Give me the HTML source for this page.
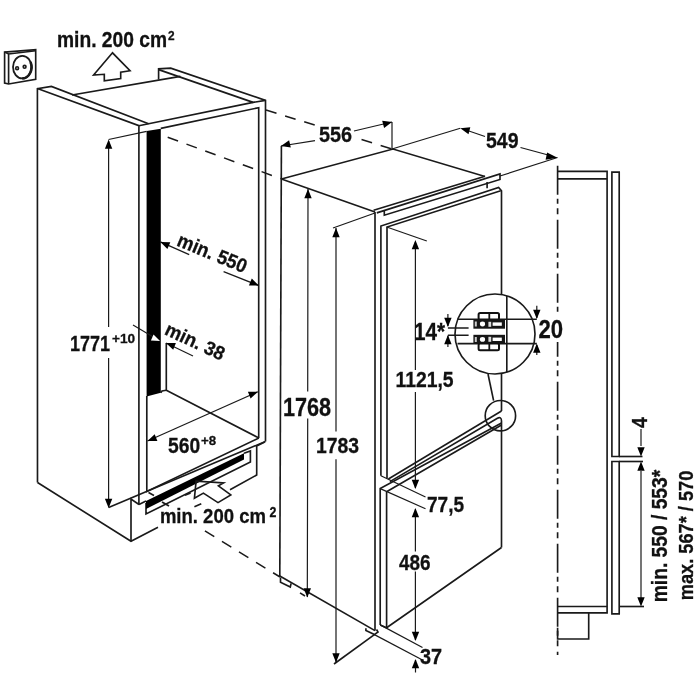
<!DOCTYPE html>
<html><head><meta charset="utf-8">
<style>
html,body{margin:0;padding:0;background:#fff;width:700px;height:700px;overflow:hidden}
svg{display:block;will-change:transform}
.l{fill:none;stroke:#1a1a1a;stroke-width:1.65;stroke-linejoin:miter;stroke-linecap:butt}
.t{font-family:"Liberation Sans",sans-serif;font-weight:bold;fill:#111;stroke:#111;stroke-width:0.3}
.f{fill:#000;stroke:none}
.dl{fill:none;stroke:#1a1a1a;stroke-width:1.2}
.d{fill:none;stroke:#1a1a1a;stroke-width:1.5;stroke-dasharray:11 9}
</style></head><body>
<svg width="700" height="700" viewBox="0 0 700 700">
<rect width="700" height="700" fill="#fff"/>

<!-- socket -->
<g class="l">
<path d="M4.6 52.1 L35.7 49.6 L35.7 79.3 L8.6 84 L4.6 83 Z"/>
<path d="M4.6 52.1 L8.6 54 L35.7 50.7 M8.6 54 L8.6 84"/>
<ellipse cx="22.3" cy="67.1" rx="9.3" ry="11.3" stroke-width="1.8"/>
<path d="M30.5 62 A9.3 11.3 0 0 1 22.3 78.4" stroke-width="2.6"/>
</g>
<circle class="l" cx="17.1" cy="68.2" r="1.4" stroke-width="1.3"/><circle class="l" cx="24.6" cy="66.8" r="1.4" stroke-width="1.3"/>

<!-- top vent arrow -->
<path class="l" d="M112.5 52.8 L93.6 75 L104.3 74.3 L104.3 80.7 L120.7 78.6 L120.7 72.1 L130 70.7 Z"/>

<!-- top text -->
<text class="t" x="57.00" y="47.00" font-size="21.33" textLength="110.07" lengthAdjust="spacingAndGlyphs">min. 200 cm</text>
<text class="t" x="168.00" y="39.80" font-size="13.6" textLength="6.6" lengthAdjust="spacingAndGlyphs">2</text>

<!-- ===== cabinet ===== -->
<g class="l">
<!-- left panel -->
<path d="M37.5 482.5 L37.4 88.6 L51.4 86.4 L148.6 123.7"/>
<path d="M37.4 88.6 L138.9 125.7 L138.9 504.5"/>
<!-- back top edge -->
<path d="M72 95 L180.4 76.4"/>
<!-- right panel top -->
<path d="M158.6 79.6 L158.6 68.9 L170.7 68.2 L265.5 100.4 L265.5 441.4"/>
<path d="M158.6 69.6 L253.1 102.4"/>
<!-- front rail -->
<path d="M138.9 125.7 L148.6 123.7 L253.1 102.4 L265.5 100.4"/>
<path d="M160.8 128.4 L258.7 107.7 L258.7 438"/>
<!-- bottom -->
<path d="M166.3 343 L166.3 390.3 L258.9 438"/>
<path d="M160.8 392.7 L162 391 L166.3 390.3"/>
<path d="M146.8 396 L146.8 491.5 L258.9 438"/>
<!-- left panel bottom / plinth -->
<path d="M37.5 482.5 L131 541.3 L158 527.2"/>
<path d="M131 541.3 L131 499 L139 504.5"/>
</g>
<!-- black bar -->
<path class="f" d="M146.6 131 L160.8 128.8 L160.8 392.7 L146.6 396.6 Z"/>

<!-- dim 1771 -->
<g class="dl">
<path d="M108.6 141 L108.6 327 M108.6 358 L108.6 506"/>
<path d="M108.6 139.5 L146.6 131.4"/>
</g>
<path class="l" d="M108.6 507.5 L265.4 441.5"/>
<path class="f" d="M108.6 139.5 L112.3 148.7 L104.9 148.7 Z"/>
<path class="f" d="M108.6 507.9 L104.9 498.7 L112.3 498.7 Z"/>
<text class="t" x="70.00" y="351.00" font-size="22.41" textLength="40.05" lengthAdjust="spacingAndGlyphs">1771</text>
<text class="t" x="112.00" y="343.00" font-size="13.67" textLength="23.15" lengthAdjust="spacingAndGlyphs">+10</text>

<!-- min 550 -->
<g class="dl">
<path d="M160.4 241.9 L189.2 254.6"/>
<path d="M223.6 271.6 L258.8 285.6"/>
</g>
<path class="f" d="M160.4 241.9 L170.3 242.2 L167.4 249.0 Z"/>
<path class="f" d="M258.8 285.6 L248.9 285.4 L251.8 278.6 Z"/>
<text class="t" transform="translate(175.8 245.3) rotate(22.5)" x="0" y="0" font-size="19.8" textLength="73.5" lengthAdjust="spacingAndGlyphs">min. 550</text>

<!-- min 38 -->
<g class="dl">
<path d="M133 325 L160 341"/>
<path d="M166 343 L193 356"/>
</g>
<path fill="#fff" d="M160.0 341.0 L150.9 340.6 L153.5 334.6 Z"/>
<path class="f" d="M166.0 343.0 L175.9 342.9 L173.2 349.8 Z"/>
<text class="t" transform="translate(163.5 334) rotate(25)" x="0" y="0" font-size="19.3" textLength="63.5" lengthAdjust="spacingAndGlyphs">min. 38</text>

<!-- 560 -->
<g class="dl">
<path d="M147.5 441 L257.8 391.8"/>
</g>
<path class="f" d="M147.5 441.0 L154.7 434.2 L157.4 441.1 Z"/>
<path class="f" d="M257.8 391.8 L250.6 398.6 L247.9 391.7 Z"/>
<text class="t" x="168.00" y="453.00" font-size="21.83" textLength="32.13" lengthAdjust="spacingAndGlyphs">560</text>
<text class="t" x="201.00" y="445.00" font-size="13.62" textLength="15.17" lengthAdjust="spacingAndGlyphs">+8</text>

<!-- plinth grid -->
<g class="l">
<path d="M146 503 L146 514 L250.4 462 L250.4 451 L244 453.3"/>
<path d="M230 489.7 L256.7 475 L256.7 445.9 L264.7 441.9"/>
<path d="M139 504.5 L146 501"/>
<path d="M148.5 492.5 L154 495.5"/>
<path d="M162 502 L169 506"/>
<path d="M185 495.3 L190.6 493.1 M194.4 506.8 L201.3 503.8"/>
</g>
<path class="f" d="M146 501 L244 453.3 L244 459.6 L146 509 Z"/>
<!-- bottom vent arrow -->
<path class="l" fill="#fff" d="M196.1 481.1 L223.6 482.9 L218.4 485.9 L230.8 494.9 L218 502.6 L203.4 493.1 L194.4 498.3 Z"/>
<text class="t" x="159.90" y="522.90" font-size="20.81" textLength="106.03" lengthAdjust="spacingAndGlyphs">min. 200 cm</text>
<text class="t" x="269.40" y="516.70" font-size="14.0" textLength="6.9" lengthAdjust="spacingAndGlyphs">2</text>

<!-- dashed connection lines -->
<path class="d" d="M167.7 137.2 L281 178.8"/>
<path class="d" d="M266 110 L392 149"/>
<path class="d" d="M204.9 530.9 L280 577"/>

<!-- ===== fridge ===== -->
<g class="l">
<path d="M281.4 146 L279.8 576"/>
<path d="M281.4 179 L393 149 L485 176.5"/>
<path d="M281.4 179 L375 212"/>
<path d="M279.8 576 L375 630.6"/>
<path d="M374.4 634.6 L334 664"/>
<path d="M375 212 L375 630.6"/>
</g>
<!-- dim 556 -->
<g class="dl">
<path d="M281 146 L315 140.6"/>
<path d="M392 122 L392 149"/>
<path d="M354 131 L392 122"/>
</g>
<path class="f" d="M281.0 146.0 L289.1 140.3 L290.8 147.5 Z"/>
<path class="f" d="M392.0 122.0 L384.1 128.0 L382.2 120.8 Z"/>
<rect x="317" y="125" width="36" height="19" fill="#fff"/>
<text class="t" x="319.00" y="142.00" font-size="22.50" textLength="33.08" lengthAdjust="spacingAndGlyphs">556</text>

<!-- dim 549 -->
<g class="dl">
<path d="M392 149 L460.3 128.3"/>
<path d="M466 130 L485 136.5"/>
<path d="M520.5 147.5 L550 155.5"/>
<path d="M500 176 L557.5 157.5"/>
</g>
<path class="f" d="M460.3 128.3 L470.3 127.2 L468.5 134.2 Z"/>
<path class="f" d="M557.5 157.7 L545.6 159.8 L547.1 152.6 Z"/>
<text class="t" x="486.00" y="147.50" font-size="22.62" textLength="32.55" lengthAdjust="spacingAndGlyphs">549</text>

<!-- frame top strip -->
<g class="l">
<path d="M373.6 210.2 L485 176.2"/>
<path d="M376.8 212.9 L500 173.9 L500 179.5 L384.3 215.2 L384.3 210.5"/>
<path d="M487.1 182 L487.1 188.3"/>
</g>
<!-- upper door -->
<g class="l">
<path d="M380.9 475.7 L380.9 226 L498.6 187.5 L501.5 190.7 L501.5 294 M501.5 374 L501.5 411"/>
<path d="M387 478.6 L387 227 L500.7 190.7"/>
<path d="M388.4 479 L501.5 411"/>
<path d="M389.9 481.6 L497 418.5 Q501.5 416 501.5 421"/>
</g>
<!-- lower door -->
<g class="l">
<path d="M380.2 624.9 L380.2 488.6 L501.5 423"/>
<path d="M501.5 421 L501.5 547.5"/>
<path d="M386.6 627.7 L386.6 491.8 L501.5 425"/>
<path d="M380.2 624.9 L386.6 627.7 L501.5 547.5"/>
</g>

<!-- dims 1768 / 1783 -->
<g class="dl">
<path d="M308 189 L307.7 391.4 M307.7 418.6 L307.3 597"/>
<path d="M336 228 L336 431.4 M336 459.3 L336 662"/>
<path d="M333 228 L375 213"/>
</g>
<path class="f" d="M308.0 189.0 L311.7 198.2 L304.3 198.2 Z"/>
<path class="f" d="M307.3 597.5 L303.6 588.3 L311.0 588.3 Z"/>
<path class="f" d="M336.0 228.0 L339.7 237.2 L332.3 237.2 Z"/>
<path class="f" d="M336.0 662.5 L332.3 653.3 L339.7 653.3 Z"/>
<text class="t" x="283.00" y="416.00" font-size="24.97" textLength="48.08" lengthAdjust="spacingAndGlyphs">1768</text>
<text class="t" x="316.00" y="453.00" font-size="22.50" textLength="43.06" lengthAdjust="spacingAndGlyphs">1783</text>

<!-- dim 1121,5 / 77,5 / 486 / 37 -->
<g class="dl">
<path d="M386.7 227 L426.8 241"/>
<path d="M415.4 242 L415.4 370 M415.4 392 L415.4 488"/>
<path d="M380.9 475.7 L425.5 497"/>
<path d="M380.2 488.6 L425.5 508.8"/>
<path d="M415.4 509 L415.4 551.5 M415.4 571.5 L415.4 640"/>
<path d="M380.2 624.9 L422.5 647.5"/>
<path d="M374.4 634.6 L422.5 660"/>
<path d="M415.5 660 L415.5 672.5"/>
</g>
<path class="f" d="M415.4 240.0 L419.1 249.2 L411.7 249.2 Z"/>
<path class="f" d="M415.4 489.0 L411.7 479.8 L419.1 479.8 Z"/>
<path class="f" d="M415.4 508.0 L419.1 517.2 L411.7 517.2 Z"/>
<path class="f" d="M415.5 641.0 L411.8 631.8 L419.2 631.8 Z"/>
<path class="f" d="M415.5 659.0 L419.2 668.2 L411.8 668.2 Z"/>
<text class="t" x="395.50" y="387.00" font-size="21.85" textLength="58.06" lengthAdjust="spacingAndGlyphs">1121,5</text>
<text class="t" x="427.00" y="512.00" font-size="22.45" textLength="37.08" lengthAdjust="spacingAndGlyphs">77,5</text>
<text class="t" x="399.00" y="570.00" font-size="22.93" textLength="31.57" lengthAdjust="spacingAndGlyphs">486</text>
<text class="t" x="420.00" y="664.00" font-size="21.53" textLength="22.13" lengthAdjust="spacingAndGlyphs">37</text>

<!-- feet -->
<g class="l">
<path d="M280.5 577.4 L280.5 582.3 L290.3 587.1 L291.1 583.4"/>
<path d="M300 592.9 L305 596"/>
<path d="M365.9 628.3 L365.9 630.5 L374.4 634.6 L378 632 L376.5 629.5"/>
</g>

<!-- hinge detail -->
<g class="l">
<circle cx="495" cy="334" r="40"/>
<path d="M506.8 296 L506.8 372.2"/>
<path d="M457.5 319.2 L536.8 319.2"/>
<path d="M457.5 343.6 L536.8 343.6"/>
<path d="M447.9 328 L468.6 328 M447.9 335.2 L468.6 335.2"/>
<path d="M488 374 L493.6 400.7"/>
<circle cx="500.4" cy="415.7" r="15.2"/>
</g>
<!-- hinge blocks -->
<g>
<rect x="478.6" y="313" width="20.4" height="6.5" rx="1.5" fill="#fff" stroke="#111" stroke-width="2"/>
<path d="M489.3 313 L489.3 319.5" stroke="#111" stroke-width="1.8"/>
<rect x="473.4" y="319.3" width="31.6" height="9.4" fill="#161616"/>
<ellipse cx="482.5" cy="324" rx="2.6" ry="2.4" fill="#fff"/>
<rect x="492.6" y="322.4" width="9.2" height="3.4" fill="#fff"/>
<rect x="488.4" y="321.8" width="2.8" height="5" fill="#ddd"/>
<rect x="474.8" y="321.5" width="2" height="5" fill="#ccc"/>
<rect x="473.4" y="334.8" width="31.6" height="9.2" fill="#161616"/>
<ellipse cx="482.5" cy="339.4" rx="2.6" ry="2.4" fill="#fff"/>
<rect x="492.6" y="337.6" width="9.2" height="3.4" fill="#fff"/>
<rect x="488.4" y="336.8" width="2.8" height="5" fill="#ddd"/>
<rect x="474.8" y="337" width="2" height="5" fill="#ccc"/>
<rect x="478.6" y="343.6" width="20.4" height="6.6" rx="1.5" fill="#fff" stroke="#111" stroke-width="2"/>
<path d="M489.3 343.6 L489.3 350" stroke="#111" stroke-width="1.8"/>
</g>
<g class="dl">
<path d="M447.9 314 L447.9 326 M447.9 336 L447.9 347"/>
<path d="M536.8 305.7 L536.8 318 M536.8 345 L536.8 355"/>
</g>
<path class="f" d="M447.9 327.0 L444.2 317.8 L451.6 317.8 Z"/>
<path class="f" d="M447.9 335.0 L451.6 344.2 L444.2 344.2 Z"/>
<path class="f" d="M536.8 319.0 L533.1 309.8 L540.5 309.8 Z"/>
<path class="f" d="M536.8 343.6 L540.5 352.8 L533.1 352.8 Z"/>
<text class="t" x="414.00" y="340.00" font-size="24.42" textLength="31.12" lengthAdjust="spacingAndGlyphs">14*</text>

<!-- ===== side profile ===== -->
<path class="l" stroke-dasharray="29 4 5 4.5 6 5.5" d="M557.6 165.7 L557.6 655"/>
<rect x="546" y="314" width="18" height="28" fill="#fff"/>
<text class="t" x="538.50" y="338.30" font-size="25.15" textLength="24.62" lengthAdjust="spacingAndGlyphs">20</text>
<g class="l">
<path d="M557.6 171.4 L607.1 171.4 L607.1 612.8 L557.6 612.8"/>
<path d="M557.6 178.9 L607.1 178.9"/>
<path d="M557.6 606.5 L607.1 606.5"/>
<path d="M611.9 456.5 L611.9 172.1 L619.2 172.1 L619.2 456.5 Z"/>
<path d="M619.2 456.5 L642.5 456.5"/>
<path d="M611.9 461.5 L611.9 613.9 L619.2 613.9 L619.2 461.5 Z"/>
<path d="M619.2 461.5 L643 461.5"/>
<path d="M619.2 606.5 L644 606.5"/>
<path d="M588.7 612.8 L588.7 639 L557.6 639 L557.6 627.7"/>
</g>
<g class="dl">
<path d="M641 429 L641 446"/>
<path d="M641 471 L641 598"/>
</g>
<path class="f" d="M641.0 456.5 L637.3 447.3 L644.7 447.3 Z"/>
<path class="f" d="M641.0 461.5 L644.7 470.7 L637.3 470.7 Z"/>
<path class="f" d="M641.0 606.5 L637.3 597.3 L644.7 597.3 Z"/>
<text class="t" transform="translate(647.00 428.00) rotate(-90)" x="0" y="0" font-size="21.89" textLength="10.74" lengthAdjust="spacingAndGlyphs">4</text>
<text class="t" transform="translate(667.00 602.30) rotate(-90)" x="0" y="0" font-size="21.64" textLength="132.53" lengthAdjust="spacingAndGlyphs">min. 550 / 553*</text>
<text class="t" transform="translate(692.50 600.30) rotate(-90)" x="0" y="0" font-size="20.24" textLength="129.67" lengthAdjust="spacingAndGlyphs">max. 567* / 570</text>

</svg>
</body></html>
